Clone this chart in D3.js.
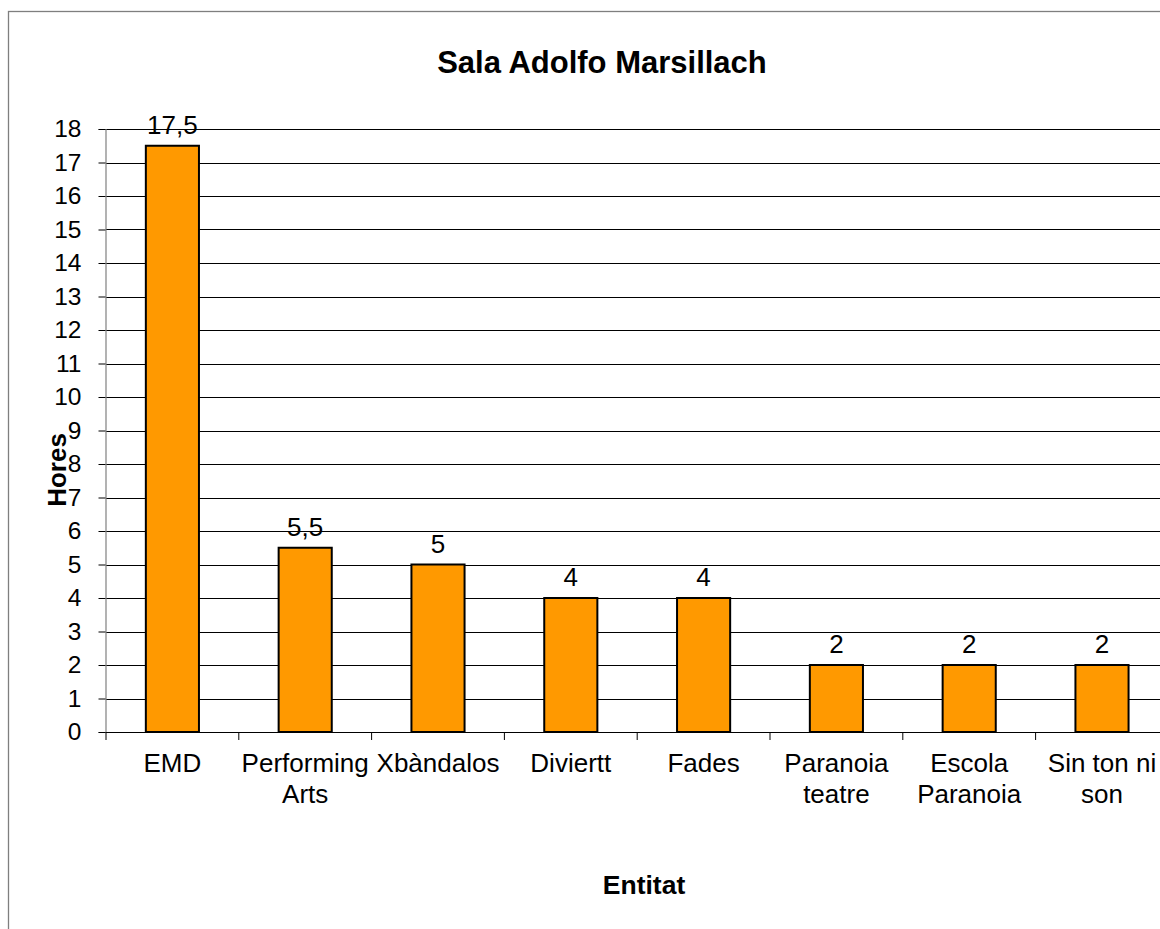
<!DOCTYPE html>
<html>
<head>
<meta charset="utf-8">
<script src="https://cdn.jsdelivr.net/npm/d3@7"></script>
<style>
  body { margin: 0; background: #fff; }
  svg { display: block; font-family: "Liberation Sans", Arial, sans-serif; }
</style>
</head>
<body>
<svg id="chart" width="1160" height="929"></svg>
<script>
const title = "Sala Adolfo Marsillach";
const yTitle = "Hores";
const xTitle = "Entitat";
const categories = ["EMD", "Performing\nArts", "Xbàndalos", "Diviertt", "Fades", "Paranoia\nteatre", "Escola\nParanoia", "Sin ton ni\nson"];
const values = [17.5, 5.5, 5, 4, 4, 2, 2, 2];
const valueLabels = ["17,5", "5,5", "5", "4", "4", "2", "2", "2"];
const yTicks = [0,1,2,3,4,5,6,7,8,9,10,11,12,13,14,15,16,17,18];

const svg = d3.select("#chart");

// outer border (extends beyond right/bottom)
svg.append("rect")
  .attr("x", 8.5).attr("y", 11.5)
  .attr("width", 1200).attr("height", 1000)
  .attr("fill", "#fff").attr("stroke", "#7f7f7f").attr("stroke-width", 1.3);

const x0 = 106, x1 = 106 + 8 * 132.8;
const x = d3.scaleBand().domain(categories).range([x0, x1]).paddingInner(0.6).paddingOuter(0.3);
const y = d3.scaleLinear().domain([0, 18]).range([732, 129]);

// gridlines
svg.append("g").selectAll("line").data(yTicks.filter(d => d > 0)).join("line")
  .attr("x1", x0).attr("x2", 1170)
  .attr("y1", d => Math.round(y(d)) + 0.5).attr("y2", d => Math.round(y(d)) + 0.5)
  .attr("stroke", "#000").attr("stroke-width", 1);

// y axis
const yAxis = d3.axisLeft(y).tickValues(yTicks).tickSize(7).tickPadding(17).tickFormat(d3.format("d"));
const gy = svg.append("g").attr("transform", `translate(${x0 - 0.5},0)`).call(yAxis);
gy.select(".domain").attr("stroke", "#808080").attr("stroke-width", 1.2);
gy.selectAll(".tick line").attr("stroke", "#000");
gy.selectAll(".tick text").attr("font-size", 24.5).attr("fill", "#000")
  .attr("font-family", "Liberation Sans, Arial, sans-serif");

// bars
svg.append("g").selectAll("rect").data(values).join("rect")
  .attr("x", (d, i) => x(categories[i]))
  .attr("y", d => y(d))
  .attr("width", x.bandwidth())
  .attr("height", d => y(0) - y(d))
  .attr("fill", "#FF9900")
  .attr("stroke", "#000").attr("stroke-width", 2);

// x axis
svg.append("line").attr("x1", x0).attr("x2", 1170).attr("y1", 732.5).attr("y2", 732.5)
  .attr("stroke", "#000").attr("stroke-width", 1.2);
const boundaries = d3.range(categories.length + 1).map(i => x0 + i * x.step());
svg.append("g").selectAll("line").data(boundaries).join("line")
  .attr("x1", d => d).attr("x2", d => d).attr("y1", 732).attr("y2", 740)
  .attr("stroke", "#000");

// category labels
const cl = svg.append("g").attr("font-size", 26).attr("text-anchor", "middle").attr("fill", "#000");
categories.forEach((c, i) => {
  const cx = x(c) + x.bandwidth() / 2;
  const t = cl.append("text").attr("x", cx).attr("y", 772);
  c.split("\n").forEach((ln, j) => {
    t.append("tspan").attr("x", cx).attr("dy", j === 0 ? 0 : 31).text(ln);
  });
});

// value labels
svg.append("g").selectAll("text").data(values).join("text")
  .attr("x", (d, i) => x(categories[i]) + x.bandwidth() / 2)
  .attr("y", d => y(d) - 12)
  .attr("text-anchor", "middle").attr("font-size", 26).attr("fill", "#000")
  .text((d, i) => valueLabels[i]);

// titles
svg.append("text").attr("x", 602).attr("y", 73).attr("text-anchor", "middle")
  .attr("font-size", 31).attr("font-weight", "bold").text(title);
svg.append("text").attr("transform", "translate(66,470) rotate(-90)").attr("text-anchor", "middle")
  .attr("font-size", 26).attr("font-weight", "bold").text(yTitle);
svg.append("text").attr("x", 644).attr("y", 894).attr("text-anchor", "middle")
  .attr("font-size", 26.5).attr("font-weight", "bold").text(xTitle);
</script>
</body>
</html>
